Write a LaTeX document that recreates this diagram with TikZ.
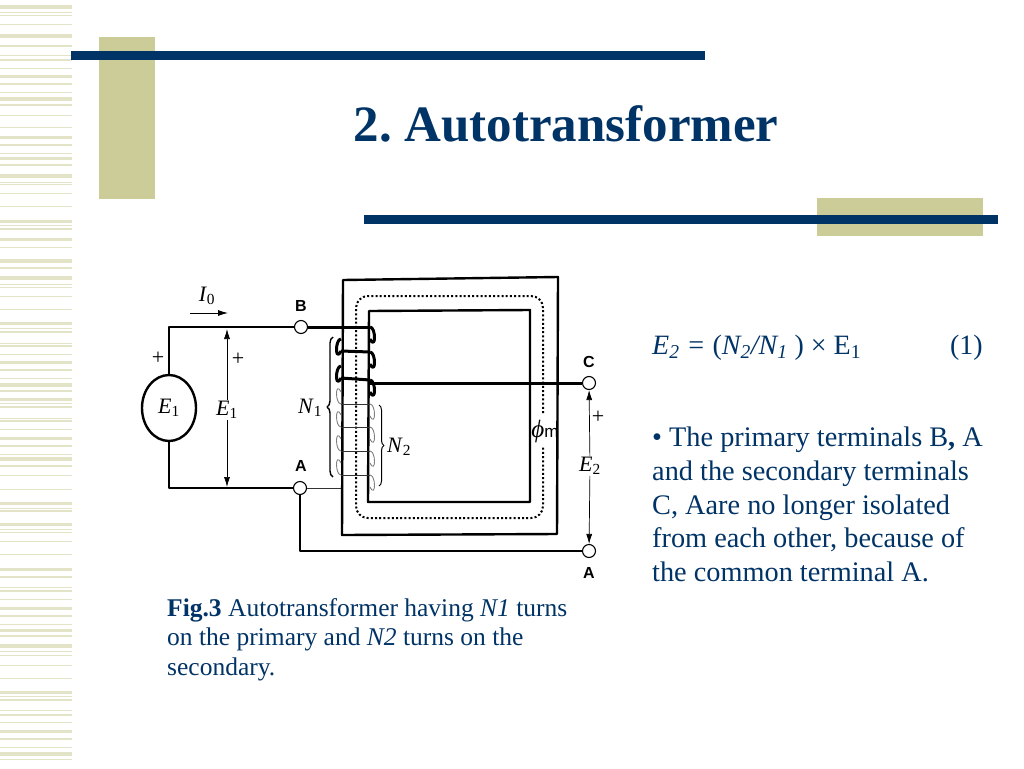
\documentclass[tikz,border=0pt]{standalone}
\usepackage{fontspec}
\setmainfont{Liberation Serif}
\setsansfont{Liberation Sans}
\usetikzlibrary{arrows.meta,shapes.geometric,decorations.pathreplacing}
\definecolor{navy}{HTML}{003366}
\definecolor{tan}{HTML}{CCCC99}
\definecolor{stripe}{HTML}{E3E3C8}
\newcommand{\symlab}[2]{\textit{#1}\textsubscript{\upshape #2}}
\tikzset{
	wire/.style={line width=1.8pt},
	thickwire/.style={line width=3pt},
	thinwire/.style={line width=0.9pt,black!80},
	thinbump/.style={line width=0.9pt,black!50},
	core/.style={line width=2.4pt},
	terminal/.style={circle,draw,fill=white,line width=1.1pt,minimum size=13pt,inner sep=0pt},
	termlabel/.style={font=\sffamily\bfseries\fontsize{16}{16}\selectfont},
	symbol/.style={font=\fontsize{22}{22}\selectfont,inner sep=1pt},
	volt/.style={line width=0.7pt,-{Latex[length=10pt,width=6pt]}},
	bodytext/.style={navy,anchor=north west,align=left,inner sep=0pt},
}
\begin{document}
\begin{tikzpicture}[x=1pt,y=-1pt,line join=round]
\useasboundingbox (0,0) rectangle (1024,768);
\fill [white] (0,0) rectangle (1024,768);
% Stripes
\foreach \y/\h in {7/4,13/1,16/1,25/1,36/4,46/2,56/1,60/2,68/1,76/3,84/2,92/1,99/4,105/2,115/1,127/1,
	137/3,145/2,153/1,158/3,165/2,176/4,182/1,184/1,193/1,206/1,221/3,225/1,229/2,239/3,247/1,259/1,
	261/4,268/2,278/4,284/1,287/1,296/1,309/1,323/3,328/1,332/2,343/1,346/2,354/1,362/3,370/2,378/1,
	385/4,391/2,399/3,403/1,407/2,418/1,421/2,429/1,438/3,446/2,454/1,459/4,466/2,475/1,489/1,503/3,
	508/1,511/2,524/3,529/1,532/1,541/1,554/1,569/3,577/2,587/1,591/2,599/1,608/3,616/2,624/1,630/3,
	636/2,646/4,651/1,655/1,665/1,678/1,692/3,696/1,700/2,710/1,715/2,722/1,731/3,739/2,747/1,754/4,759/1}{
	\fill [stripe] (0,\y-\h/2) rectangle (72,\y+\h/2);
}
% Bars
\fill [tan] (99,37) rectangle (155,199);
\fill [tan] (817,198) rectangle (983,236);
\fill [navy] (71,51) rectangle (705,60);
\fill [navy] (364,215) rectangle (998,224);
\node [navy,anchor=base,font=\bfseries\fontsize{51}{51}\selectfont] (title) at (566,141) {\frenchspacing 2. Autotransformer};
% Core
\draw [core] (343,280)--(558,277)--(557,534)--(342,535)--cycle;
\draw [core] (369,311)--(530,310)--(530,502)--(368,502)--cycle;
% Flux
\coordinate (fluxa) at (543,413);
\coordinate (fluxb) at (543,447);
\draw [line width=2pt,dash pattern=on 2pt off 2.2pt,rounded corners=12pt] (fluxa)--(543,296)--(356,296)--(356,518)--(543,518)--(fluxb);
\node [inner sep=0pt] (phim) at (545,431) {\fontsize{25}{25}\selectfont\textit{ϕ}\textsf{\fontsize{17}{17}\selectfont m}};
% Coil
\foreach \i/\y in {1/327,2/352,3/380}{
	\coordinate (r\i) at (370,\y);
}
\foreach \i/\y in {1/339,2/366}{
	\coordinate (l\i) at (341,\y);
}
\foreach \i/\y in {1/351,2/378}{
	\coordinate (m\i) at (341,\y);
}
\foreach \i in {1,2}{
	\draw [thickwire] (l\i) .. controls +(-6,0) and +(-6,12) .. (m\i);
	\draw [thickwire] (m\i) -- (r\the\numexpr\i+1\relax);
}
\foreach \i in {1,2,3}{
	\draw [thickwire] (r\i) .. controls +(6,0) and +(6,12) .. +(0,12);
}
\foreach \i/\y in {1/404,2/427,3/451,4/475}{
	\coordinate (p\i) at (341,\y);
	\coordinate (q\i) at (370,\y);
	\draw [thinwire] (p\i) -- (q\i);
	\draw [thinbump] (p\i) .. controls +(-6,0) and +(-6,-12) .. +(0,-12);
	\draw [thinbump] (q\i) .. controls +(6,0) and +(6,12) .. +(0,12);
}
% Terminals
\node [terminal] (B) at (301,327) {};
\node [terminal] (A) at (300,488) {};
\node [terminal] (C) at (589,383) {};
\node [terminal] (A2) at (589,551) {};
\node [termlabel] (labB) at (301,306) {B};
\node [termlabel] (labA) at (301,466) {A};
\node [termlabel] (labC) at (589,362) {C};
\node [termlabel] (labA2) at (589,573) {A};
% Source
\node [ellipse,draw,line width=2.4pt,minimum width=54pt,minimum height=66pt,inner sep=0pt,font=\fontsize{22}{22}\selectfont] (src) at (169,408) {\symlab{E}{1}};
\node [symbol] (plussrc) at (158,358) {+};
\coordinate (corner) at (300,551);
\coordinate (coilin) at (341,488);
\draw [wire] (src.north) |- (B);
\draw [wire] (src.south) |- (A);
\draw [thickwire] (B) -- (r1);
\draw [thickwire] (r3|-C) -- (C);
\draw [thinwire] (A) -- (coilin);
\draw [wire] (A) -- (corner) -- (A2);
% Current
\coordinate (ia) at (190,313);
\coordinate (ib) at (228,313);
\node [symbol] (I0) at (207,296) {\symlab{I}{0}};
\draw [line width=0.9pt,-{Latex[length=10pt,width=6pt]}] (ia) -- (ib);
% Voltages
\node [symbol] (E1) at (227,410) {\symlab{E}{1}};
\coordinate (e1top) at (227,329);
\coordinate (e1bot) at (227,487);
\draw [volt] (E1) -- (e1top);
\draw [volt] (E1) -- (e1bot);
\node [symbol] (pluse1) at (238,359) {+};
\node [symbol] (E2) at (590,466) {\symlab{E}{2}};
\draw [volt] (E2) -- (C);
\draw [volt] (E2) -- (A2);
\node [symbol] (pluse2) at (598,417) {+};
% Braces
\coordinate (n1bot) at (333,477);
\coordinate (n1top) at (333,337);
\coordinate (n2top) at (379,405);
\coordinate (n2bot) at (379,486);
\draw [line width=1.4pt,decorate,decoration={brace,amplitude=6pt}] (n1bot) -- (n1top);
\draw [line width=1pt,decorate,decoration={brace,amplitude=5pt}] (n2top) -- (n2bot);
\node [symbol] (N1) at (310,408) {\symlab{N}{1}};
\node [symbol] (N2) at (399,447) {\symlab{N}{2}};
% Text
\node [bodytext,font=\fontsize{25.5}{29.7}\selectfont] (caption) at (167,598) {\textbf{Fig.3} Autotransformer having \textit{N1} turns\\on the primary and \textit{N2} turns on the\\secondary.};
\node [navy,anchor=base west,inner sep=0pt,font=\fontsize{28}{28}\selectfont] (eqn) at (652,354) {\textit{E\textsubscript{2} =} (\textit{N\textsubscript{2}/N\textsubscript{1}} ) × E\textsubscript{1}};
\node [navy,anchor=base east,inner sep=0pt,font=\fontsize{28}{28}\selectfont] (eqnum) at (983,354) {(1)};
\node [bodytext,font=\fontsize{28.3}{33.6}\selectfont] (points) at (652,427) {• The primary terminals B\textbf{,} A\\and the secondary terminals\\C, Aare no longer isolated\\from each other, because of\\the common terminal A.};
\end{tikzpicture}
\end{document}
